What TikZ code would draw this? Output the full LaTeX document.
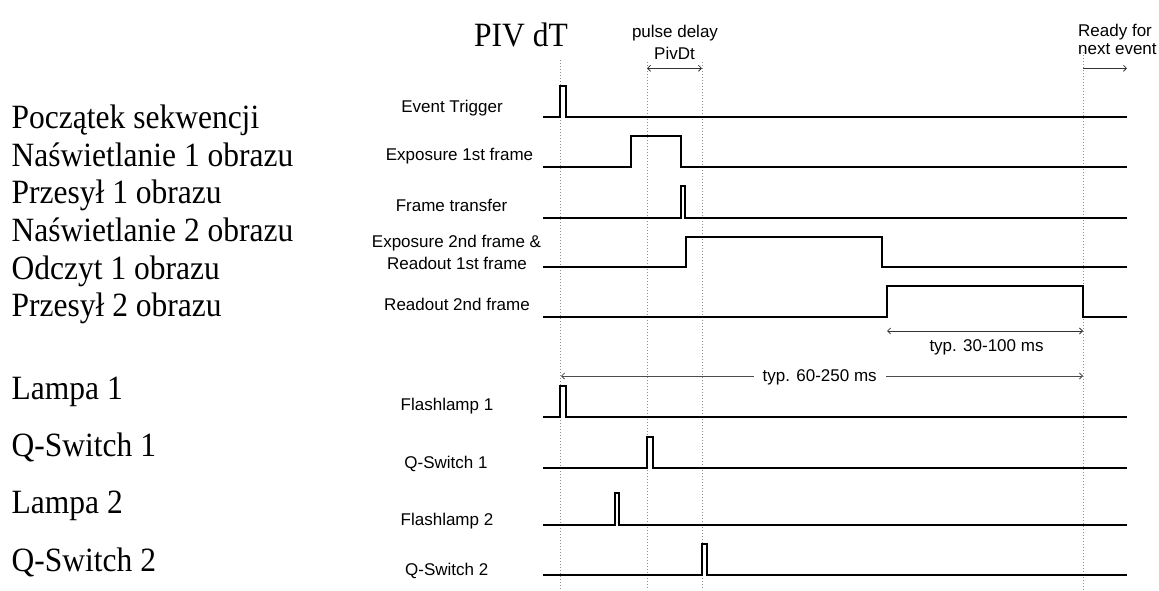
\documentclass[tikz,border=0pt]{standalone}
\usepackage{fontspec}
\setmainfont{Liberation Serif}
\newfontfamily\arialf{Liberation Sans}
\usetikzlibrary{arrows.meta}
\newcommand{\tall}[1]{\scalebox{1}[1.08]{#1}}
\begin{document}
\begin{tikzpicture}[x=1pt,y=-1pt,
  sig/.style={line width=2.4pt, line join=miter, black},
  guide/.style={draw=black!45, line width=0.6pt, dash pattern=on 1.2pt off 1.8pt},
  dimline/.style={line width=0.8pt, black!80},
  barb/.tip={Straight Barb[length=3pt,width=6pt]},
  lab/.style={font=\arialf\fontsize{17}{20}\selectfont, inner sep=0pt, anchor=base},
  pl/.style={font=\fontsize{31.5}{38}\selectfont, inner sep=0pt, anchor=base west},
]
\useasboundingbox (0,0) rectangle (1159,590);
\fill[white] (0,0) rectangle (1159,590);

% guide lines
\coordinate (g0t) at (560,60);  \coordinate (g0b) at (560,590);
\coordinate (g1t) at (647,62);  \coordinate (g1b) at (647,590);
\coordinate (g2t) at (702,62);  \coordinate (g2b) at (702,590);
\coordinate (g3t) at (1083,52); \coordinate (g3b) at (1083,590);
\draw[guide] (g0t) -- (g0b);
\draw[guide] (g1t) -- (g1b);
\draw[guide] (g2t) -- (g2b);
\draw[guide] (g3t) -- (g3b);

% top labels
\node[pl, anchor=base] (piv) at (521,46.5) {\tall{PIV dT}};
\node[lab] (pd1) at (675,37.3) {pulse delay};
\node[lab] (pd2) at (674.5,59) {PivDt};
\node[lab, anchor=base west] (rd1) at (1078,36.7) {Ready for};
\node[lab, anchor=base west] (rd2) at (1078,54.3) {next event};

% dimension arrows
\coordinate (pdL) at (647,68.3); \coordinate (pdR) at (702,68.3);
\draw[dimline, barb-barb] (pdL) -- (pdR);
\coordinate (rdL) at (1083,68.3); \coordinate (rdR) at (1127,68.3);
\draw[dimline, -barb] (rdL) -- (rdR);
\coordinate (aL) at (887,331); \coordinate (aR) at (1083,331);
\draw[dimline, barb-barb] (aL) -- (aR);
\node[lab] (a30) at (986.5,351.7) {typ. 30-100 ms};
\coordinate (bL) at (561,376); \coordinate (bR) at (1083,376);
\draw[dimline, black!70, barb-barb] (bL) -- (bR);
\node[lab, fill=white, inner xsep=9pt, inner ysep=2pt] (b60) at (819.7,381.5) {typ. 60-250 ms};

% signal labels
\node[lab] (l1) at (452,112) {Event Trigger};
\node[lab] (l2) at (459.5,160) {Exposure 1st frame};
\node[lab] (l3) at (451.5,211.7) {Frame transfer};
\node[lab] (l4a) at (456.5,247) {Exposure 2nd frame \&};
\node[lab] (l4b) at (457,269) {Readout 1st frame};
\node[lab] (l5) at (457,310.5) {Readout 2nd frame};
\node[lab] (l6) at (447,410.7) {Flashlamp 1};
\node[lab] (l7) at (446,468) {Q-Switch 1};
\node[lab] (l8) at (447,525) {Flashlamp 2};
\node[lab] (l9) at (446.7,575) {Q-Switch 2};

% signals
\draw[sig] (543,117) -- (560,117) -- (560,86) -- (566,86) -- (566,117) -- (1127,117);
\draw[sig] (543,167) -- (631,167) -- (631,136) -- (681,136) -- (681,167) -- (1127,167);
\draw[sig] (543,218) -- (681,218) -- (681,186) -- (685,186) -- (685,218) -- (1127,218);
\draw[sig] (543,267) -- (686,267) -- (686,237) -- (882,237) -- (882,267) -- (1127,267);
\draw[sig] (543,317) -- (887,317) -- (887,286) -- (1083,286) -- (1083,317) -- (1127,317);
\draw[sig] (543,417) -- (560,417) -- (560,386) -- (566,386) -- (566,417) -- (1127,417);
\draw[sig] (543,468) -- (647,468) -- (647,437) -- (653,437) -- (653,468) -- (1127,468);
\draw[sig] (543,525) -- (615,525) -- (615,493) -- (619,493) -- (619,525) -- (1127,525);
\draw[sig] (543,575) -- (702,575) -- (702,544) -- (707,544) -- (707,575) -- (1127,575);

% Polish labels
\node[pl] (p1) at (11.5,128.5) {\tall{Początek sekwencji}};
\node[pl] (p2) at (11.5,166.2) {\tall{Naświetlanie 1 obrazu}};
\node[pl] (p3) at (11.5,203.8) {\tall{Przesył 1 obrazu}};
\node[pl] (p4) at (11.5,241.4) {\tall{Naświetlanie 2 obrazu}};
\node[pl] (p5) at (11.5,279) {\tall{Odczyt 1 obrazu}};
\node[pl] (p6) at (11.5,316.6) {\tall{Przesył 2 obrazu}};
\node[pl] (p7) at (11.5,399) {\tall{Lampa 1}};
\node[pl] (p8) at (11.5,456.7) {\tall{Q-Switch 1}};
\node[pl] (p9) at (11.5,513.3) {\tall{Lampa 2}};
\node[pl] (p10) at (11.5,571) {\tall{Q-Switch 2}};
\end{tikzpicture}
\end{document}
